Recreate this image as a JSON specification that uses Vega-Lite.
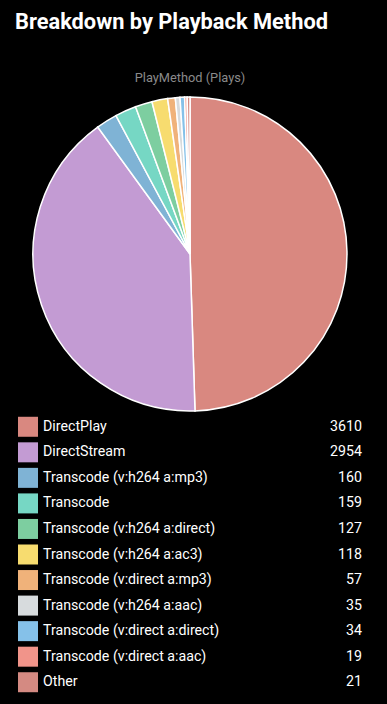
{
  "$schema": "https://vega.github.io/schema/vega-lite/v6.json",
  "background": "#000000",
  "padding": {"left": 0, "right": 0, "top": 12, "bottom": 12},
  "title": {"text": "Breakdown by Playback Method", "anchor": "start", "dx": 15, "fontSize": 21.8, "font": "Roboto", "fontWeight": "bold", "color": "#ffffff", "offset": 38},
  "spacing": 0,
  "config": {"view": {"stroke": null}, "font": "Roboto"},
  "datasets": {
    "plays": [
      {"idx": 1, "method": "DirectPlay", "plays": 3610},
      {"idx": 2, "method": "DirectStream", "plays": 2954},
      {"idx": 3, "method": "Transcode (v:h264 a:mp3)", "plays": 160},
      {"idx": 4, "method": "Transcode", "plays": 159},
      {"idx": 5, "method": "Transcode (v:h264 a:direct)", "plays": 127},
      {"idx": 6, "method": "Transcode (v:h264 a:ac3)", "plays": 118},
      {"idx": 7, "method": "Transcode (v:direct a:mp3)", "plays": 57},
      {"idx": 8, "method": "Transcode (v:h264 a:aac)", "plays": 35},
      {"idx": 9, "method": "Transcode (v:direct a:direct)", "plays": 34},
      {"idx": 10, "method": "Transcode (v:direct a:aac)", "plays": 19},
      {"idx": 11, "method": "Other", "plays": 21}
    ]
  },
  "vconcat": [
    {
      "width": 380,
      "height": 320,
      "title": {"text": "PlayMethod (Plays)", "fontSize": 12.8, "fontWeight": "normal", "color": "#8a8a8a", "font": "Roboto", "anchor": "middle", "offset": 9},
      "data": {"name": "plays"},
      "mark": {"type": "arc", "outerRadius": 157, "stroke": "#ffffff", "strokeWidth": 1.5},
      "encoding": {
        "theta": {"field": "plays", "type": "quantitative", "stack": true},
        "order": {"field": "idx", "type": "quantitative", "sort": "ascending"},
        "color": {
          "field": "method", "type": "nominal", "legend": null,
          "scale": {
            "domain": ["DirectPlay", "DirectStream", "Transcode (v:h264 a:mp3)", "Transcode", "Transcode (v:h264 a:direct)", "Transcode (v:h264 a:ac3)", "Transcode (v:direct a:mp3)", "Transcode (v:h264 a:aac)", "Transcode (v:direct a:direct)", "Transcode (v:direct a:aac)", "Other"],
            "range": ["#D98880", "#C39BD3", "#7FB3D5", "#76D7C4", "#7DCEA0", "#F7DC6F", "#F0B27A", "#D7DBDD", "#85C1E9", "#F1948A", "#D48A82"]
          }
        }
      }
    },
    {
      "width": 387,
      "height": 281,
      "data": {"name": "plays"},
      "encoding": {
        "y": {"field": "method", "type": "nominal", "sort": {"field": "idx", "order": "ascending"}, "axis": null, "scale": {"paddingInner": 0, "paddingOuter": 0}}
      },
      "layer": [
        {
          "mark": {"type": "square", "size": 400, "opacity": 1},
          "encoding": {
            "x": {"value": 28},
            "color": {"field": "method", "type": "nominal", "legend": null,
              "scale": {
                "domain": ["DirectPlay", "DirectStream", "Transcode (v:h264 a:mp3)", "Transcode", "Transcode (v:h264 a:direct)", "Transcode (v:h264 a:ac3)", "Transcode (v:direct a:mp3)", "Transcode (v:h264 a:aac)", "Transcode (v:direct a:direct)", "Transcode (v:direct a:aac)", "Other"],
                "range": ["#D98880", "#C39BD3", "#7FB3D5", "#76D7C4", "#7DCEA0", "#F7DC6F", "#F0B27A", "#D7DBDD", "#85C1E9", "#F1948A", "#D48A82"]
              }}
          }
        },
        {
          "mark": {"type": "text", "align": "left", "baseline": "middle", "fontSize": 14.2, "font": "Roboto", "color": "#ffffff"},
          "encoding": {"x": {"value": 43}, "text": {"field": "method"}}
        },
        {
          "mark": {"type": "text", "align": "right", "baseline": "middle", "fontSize": 14.2, "font": "Roboto", "color": "#ffffff"},
          "encoding": {"x": {"value": 362}, "text": {"field": "plays", "type": "quantitative"}}
        }
      ]
    }
  ]
}
